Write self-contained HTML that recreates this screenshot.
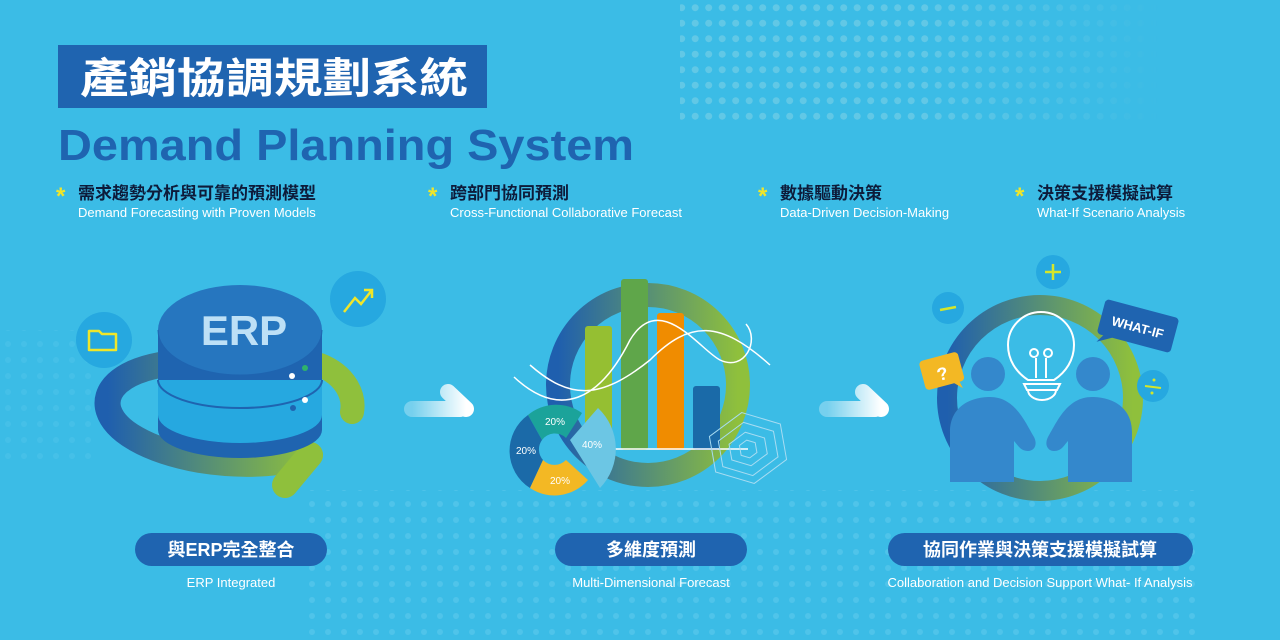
<!DOCTYPE html>
<html><head><meta charset="utf-8"><style>
html,body{margin:0;padding:0;background:#3bbce6;}
svg{display:block}
.zh{font-family:"Liberation Sans","Noto Sans CJK TC",sans-serif}
</style></head><body>
<svg width="1280" height="640" viewBox="0 0 1280 640" xmlns="http://www.w3.org/2000/svg">
<defs>
<linearGradient id="ring" x1="0" x2="1" y1="0" y2="0"><stop offset="0" stop-color="#1f5fae"/><stop offset="1" stop-color="#8fc03c"/></linearGradient>
<linearGradient id="arr" x1="0" x2="1"><stop offset="0" stop-color="#ffffff" stop-opacity="0.3"/><stop offset="1" stop-color="#ffffff"/></linearGradient>
<pattern id="dots" width="13.5" height="15.5" patternUnits="userSpaceOnUse"><circle cx="6.7" cy="7.7" r="3.5" fill="#6ccbe6"/></pattern>
<pattern id="dots2" width="16" height="16" patternUnits="userSpaceOnUse"><circle cx="8" cy="8" r="3" fill="#5cc9ec"/></pattern>
<linearGradient id="fade" x1="0" x2="1"><stop offset="0" stop-color="#fff" stop-opacity="0.8"/><stop offset="0.5" stop-color="#fff" stop-opacity="0.8"/><stop offset="1" stop-color="#fff" stop-opacity="0"/></linearGradient>
<mask id="m1"><rect x="680" y="0" width="480" height="125" fill="url(#fade)"/></mask>
</defs>
<rect width="1280" height="640" fill="#3bbce6"/>
<rect x="680" y="0" width="480" height="125" fill="url(#dots)" mask="url(#m1)"/>
<rect x="300" y="490" width="900" height="150" fill="url(#dots2)" opacity="0.6"/>
<rect x="0" y="330" width="100" height="130" fill="url(#dots2)" opacity="0.3"/>

<rect x="58" y="45" width="429" height="63" fill="#1f64b0"/>
<text x="80" y="93" textLength="388" lengthAdjust="spacingAndGlyphs" class="zh" font-size="42" font-weight="bold" fill="#fff">產銷協調規劃系統</text>
<text x="58" y="160" textLength="576" lengthAdjust="spacingAndGlyphs" font-family="Liberation Sans,sans-serif" font-size="44" font-weight="bold" fill="#1f64b0">Demand Planning System</text>

<g class="zh" font-size="17" font-weight="bold" fill="#0d1b3a">
<text x="78" y="199">需求趨勢分析與可靠的預測模型</text>
<text x="450" y="199">跨部門協同預測</text>
<text x="780" y="199">數據驅動決策</text>
<text x="1037" y="199">決策支援模擬試算</text>
</g>
<g font-family="Liberation Sans,sans-serif" font-size="24" font-weight="bold" fill="#f0e62a">
<text x="56" y="204">*</text><text x="428" y="204">*</text><text x="758" y="204">*</text><text x="1015" y="204">*</text>
</g>
<g font-family="Liberation Sans,sans-serif" font-size="13" fill="#fff">
<text x="78" y="217">Demand Forecasting with Proven Models</text>
<text x="450" y="217">Cross-Functional Collaborative Forecast</text>
<text x="780" y="217">Data-Driven Decision-Making</text>
<text x="1037" y="217">What-If Scenario Analysis</text>
</g>

<!-- ERP -->
<circle cx="104" cy="340" r="28" fill="#26a8e0"/>
<path d="M89 331 h10 l3 3 h14 v16 h-27z" fill="none" stroke="#f0e62a" stroke-width="2.5" stroke-linejoin="round"/>
<circle cx="358" cy="299" r="28" fill="#26a8e0"/>
<polyline points="344,312 355,298 361,304 372,290" fill="none" stroke="#f0e62a" stroke-width="2.5"/>
<polyline points="364,290 372,290 372,298" fill="none" stroke="#f0e62a" stroke-width="2.5"/>
<path d="M160 365 C 80 380, 90 440, 200 460 C 250 468, 290 462, 310 455" fill="none" stroke="url(#ring)" stroke-width="26" stroke-linecap="round"/>
<path d="M310 455 L 285 485" stroke="#8fc03c" stroke-width="26" stroke-linecap="round"/>
<path d="M320 365 C 345 375, 355 395, 352 412" fill="none" stroke="#8fc03c" stroke-width="24" stroke-linecap="round"/>
<path d="M158 330 v100 a82 28 0 0 0 164 0 v-100z" fill="#1f64b0"/>
<path d="M158 380 v35 a82 28 0 0 0 164 0 v-35z" fill="#26a8e0"/>
<path d="M158 380 a82 28 0 0 0 164 0" fill="none" stroke="#1f64b0" stroke-width="2"/>
<ellipse cx="240" cy="330" rx="82" ry="45" fill="#2676bf"/>
<path d="M158 330 a82 45 0 0 0 164 0" fill="none" stroke="#1f64b0" stroke-width="1"/>
<text x="244" y="345" text-anchor="middle" font-family="Liberation Sans,sans-serif" font-size="42" font-weight="bold" fill="#bde0f6">ERP</text>
<circle cx="292" cy="376" r="3" fill="#fff"/><circle cx="305" cy="368" r="3" fill="#2fb36b"/>
<circle cx="305" cy="400" r="3" fill="#fff"/><circle cx="293" cy="408" r="3" fill="#1f64b0"/>

<!-- arrows -->
<path d="M412 409 H460 M448 392 L466 409" stroke="url(#arr)" stroke-width="16" stroke-linecap="round" fill="none"/>
<path d="M827 409 H875 M863 392 L881 409" stroke="url(#arr)" stroke-width="16" stroke-linecap="round" fill="none"/>

<!-- chart -->
<circle cx="648" cy="385" r="90" fill="none" stroke="url(#ring)" stroke-width="24"/>
<rect x="585" y="326" width="27" height="124" rx="3" fill="#95bf32"/>
<rect x="621" y="279" width="27" height="171" rx="3" fill="#5fa64a"/>
<rect x="657" y="313" width="27" height="137" rx="3" fill="#f08c00"/>
<rect x="693" y="386" width="27" height="64" rx="3" fill="#1a6aa8"/>
<line x1="600" y1="449" x2="748" y2="449" stroke="#fff" stroke-width="1.5"/>
<path d="M514 377 C 560 420, 600 400, 630 340 C 660 290, 700 350, 720 360 C 745 372, 760 340, 746 324" fill="none" stroke="#fff" stroke-width="1.5"/>
<path d="M530 365 C 570 400, 600 400, 650 360 C 690 320, 720 320, 770 365" fill="none" stroke="#fff" stroke-width="1.5"/>
<g fill="none" stroke="#a8dcf2" stroke-width="1">
<polygon points="748,412 784,430 784,466 748,484 712,466 712,430" transform="rotate(-10 748 448)"/>
<polygon points="748,422 776,436 776,462 748,476 720,462 720,436" transform="rotate(-10 748 448)"/>
<polygon points="748,432 766,441 766,457 748,466 730,457 730,441" transform="rotate(-10 748 448)"/>
<polygon points="748,440 756,444 756,454 748,458 740,454 740,444" transform="rotate(-10 748 448)"/>
</g>
<path d="M528 415 A44 44 0 0 1 582 413 L566 438 A16 16 0 0 0 542 440 Z" fill="#1ba39a"/>
<path d="M528 415 L542 440 A16 16 0 0 0 543 460 L 530 488 A44 44 0 0 1 528 415Z" fill="#1b6aa8"/>
<path d="M543 460 A16 16 0 0 0 566 460 L 588 480 A44 44 0 0 1 530 488Z" fill="#f3b824"/>
<path d="M570 440 L598 408 A56 56 0 0 1 600 488 Z" fill="#6cc6e4"/>
<g font-family="Liberation Sans,sans-serif" font-size="10" fill="#fff"><text x="545" y="425">20%</text><text x="516" y="454">20%</text><text x="550" y="484">20%</text><text x="582" y="448">40%</text></g>

<!-- collaboration -->
<circle cx="1040" cy="398" r="93" fill="none" stroke="url(#ring)" stroke-width="20"/>
<circle cx="1053" cy="272" r="17" fill="#26a8e0"/>
<path d="M1045 272h16M1053 264v16" stroke="#d5e62a" stroke-width="2.5"/>
<circle cx="948" cy="308" r="16" fill="#26a8e0"/>
<path d="M940 310 l16 -3" stroke="#d5e62a" stroke-width="2.5"/>
<circle cx="1153" cy="386" r="16" fill="#26a8e0"/>
<path d="M1145 386 l16 2" stroke="#d5e62a" stroke-width="2"/><circle cx="1154" cy="380" r="1.5" fill="#d5e62a"/><circle cx="1152" cy="393" r="1.5" fill="#d5e62a"/>
<g transform="rotate(15 1138 326)"><rect x="1100" y="308" width="76" height="36" rx="4" fill="#1f64b0"/><path d="M1108 342 l-6 10 l14 -8z" fill="#1f64b0"/>
<text x="1138" y="332" text-anchor="middle" font-family="Liberation Sans,sans-serif" font-size="13" font-weight="bold" fill="#fff">WHAT-IF</text></g>
<g transform="rotate(-15 942 372)"><rect x="922" y="356" width="40" height="30" rx="4" fill="#f3b824"/><path d="M950 385 l8 8 l-2 -9z" fill="#f3b824"/>
<text x="942" y="380" text-anchor="middle" font-family="Liberation Sans,sans-serif" font-size="18" font-weight="bold" fill="#fff">?</text></g>
<circle cx="988" cy="374" r="17" fill="#3488cc"/><circle cx="1093" cy="374" r="17" fill="#3488cc"/>
<path d="M950 482 v-50 c0-25 20-35 40-35 c25 0 35 25 44 40 c4 8 0 14-6 14 c-8 0-10-6-14-10 v41z" fill="#3488cc"/>
<path d="M1132 482 v-50 c0-25-20-35-40-35 c-25 0-35 25-44 40 c-4 8 0 14 6 14 c8 0 10-6 14-10 v41z" fill="#3488cc"/>
<g fill="none" stroke="#fff" stroke-width="2">
<path d="M1028 380 c-12-8-20-20-20-35 a33 33 0 0 1 66 0 c0 15-8 27-20 35z"/>
<path d="M1024 384 h36 l-3 6 h-30z"/><path d="M1028 390 a14 10 0 0 0 28 0"/>
<path d="M1036 378 v-20 M1046 378 v-20"/><circle cx="1034" cy="353" r="4"/><circle cx="1048" cy="353" r="4"/>
</g>

<!-- pills -->
<rect x="135" y="533" width="192" height="33" rx="16.5" fill="#1f64b0"/>
<rect x="555" y="533" width="192" height="33" rx="16.5" fill="#1f64b0"/>
<rect x="888" y="533" width="305" height="33" rx="16.5" fill="#1f64b0"/>
<g class="zh" font-size="18" font-weight="bold" fill="#fff" text-anchor="middle">
<text x="231" y="556">與ERP完全整合</text><text x="651" y="556">多維度預測</text><text x="1040" y="556">協同作業與決策支援模擬試算</text>
</g>
<g font-family="Liberation Sans,sans-serif" font-size="13" fill="#fff" text-anchor="middle">
<text x="231" y="587">ERP Integrated</text><text x="651" y="587">Multi-Dimensional Forecast</text><text x="1040" y="587">Collaboration and Decision Support What- If Analysis</text>
</g>
</svg>
</body></html>
